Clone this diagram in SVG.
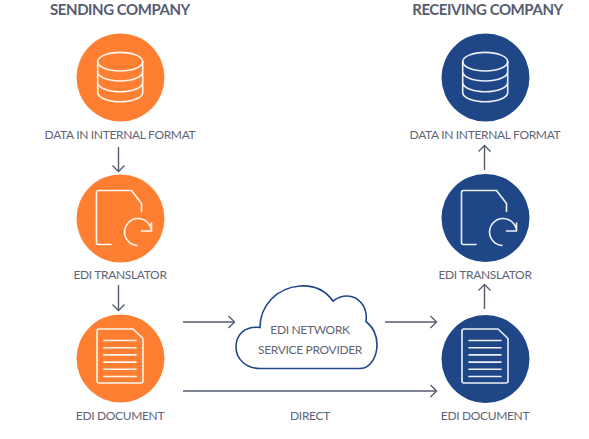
<svg xmlns="http://www.w3.org/2000/svg" width="589" height="439" viewBox="0 0 589 439">
<style>
text{font-family:Lato,"Open Sans","Liberation Sans",sans-serif;fill:#5f6577;text-anchor:middle;font-size:12px;letter-spacing:-.33px}
.h{font-weight:700;font-size:15px;letter-spacing:-.45px;fill:#565c70}
.o{fill:#ff7f32}.b{fill:#1f4788}
.i{fill:none;stroke:#fff;stroke-width:1.6;stroke-linejoin:round;stroke-linecap:round;opacity:.92}
.c{fill:none;stroke:#565c70;stroke-width:1.4;marker-end:url(#a)}
</style>
<defs>
<marker id="a" markerUnits="userSpaceOnUse" markerWidth="12" markerHeight="14" refX="9" refY="7" orient="auto"><path d="M3.500 1L9.500 7L3.500 13" fill="none" stroke="#565c70" stroke-width="1.400"/></marker>
<g id="db"><ellipse cx="0" cy="-12.300" rx="22.500" ry="9.300" class="i"/><path class="i" d="M-22.500-12.300V18.400C-22.500 23.500-12.500 27.700 0 27.700S22.500 23.500 22.500 18.400V-12.300M-22.500-2.300C-22.500 2.800-12.500 7 0 7S22.500 2.800 22.500-2.300M-22.500 8.400C-22.500 13.500-12.500 17.700 0 17.700S22.500 13.500 22.500 8.400"/></g>
<g id="tr"><path class="i" d="M-9 26.500H-21.500Q-23.500 26.500-23.500 24.500V-25.500Q-23.500-27.500-21.500-27.500H11.500L21.500-14.500V-6.500"/><path class="i" d="M17 27.500A13.500 13.500 0 1 1 31.500 13M21.500 13H31.500V5"/></g>
<g id="doc"><path class="i" d="M-21-27H13L23-17.500V25Q23 27 21 27H-21Q-23 27-23 25V-25Q-23-27-21-27Z"/><path class="i" d="M-16-15.500H16M-16-8.300H16M-16-1.100H16M-16 6.100H16M-16 13.300H16M-16 20.500H16"/></g>
</defs>
<g id="connectors">
<path class="c" d="M118.500 147V171"/>
<path class="c" d="M118.500 285V310"/>
<path class="c" d="M183 322H234"/>
<path class="c" d="M385 322H436"/>
<path class="c" d="M183 391H436"/>
<path class="c" d="M484.500 170V146"/>
<path class="c" d="M484.500 309V285"/>
</g>
<g id="title-sending"><text class="h" x="120" y="15">SENDING COMPANY</text></g>
<g id="title-receiving"><text class="h" x="487.500" y="15">RECEIVING COMPANY</text></g>
<g id="send-data"><circle class="o" cx="120.500" cy="77.500" r="44"/><use href="#db" x="120.200" y="74"/><text x="120" y="139">DATA IN INTERNAL FORMAT</text></g>
<g id="send-translator"><circle class="o" cx="120.500" cy="218.500" r="44"/><use href="#tr" x="120" y="218"/><text x="120" y="279">EDI TRANSLATOR</text></g>
<g id="send-document"><circle class="o" cx="120.500" cy="358.500" r="44"/><use href="#doc" x="120" y="356"/><text x="120" y="420">EDI DOCUMENT</text></g>
<g id="recv-data"><circle class="b" cx="485.500" cy="77.500" r="44"/><use href="#db" x="485.200" y="74"/><text x="485" y="139">DATA IN INTERNAL FORMAT</text></g>
<g id="recv-translator"><circle class="b" cx="485.500" cy="218" r="44"/><use href="#tr" x="485" y="218"/><text x="485" y="279">EDI TRANSLATOR</text></g>
<g id="recv-document"><circle class="b" cx="485.500" cy="359" r="44"/><use href="#doc" x="485" y="356"/><text x="485" y="420">EDI DOCUMENT</text></g>
<g id="cloud"><path fill="#fff" stroke="#1f4788" stroke-width="1.6" d="M260 368.500H360C372 368.500 377 354 377 345C377 334 373 327 366 321.500C368 306 358 296 347 296C341 296 337 298 333 301C325 290 313 285 300 286C276 288 260 306 260 327.500C245 326 236 334 236 347C236 359 246 368.500 260 368.500Z"/><text x="310" y="333.500">EDI NETWORK</text><text x="310" y="353.500">SERVICE PROVIDER</text></g>
<g id="direct-label"><text x="310" y="420">DIRECT</text></g>
</svg>
